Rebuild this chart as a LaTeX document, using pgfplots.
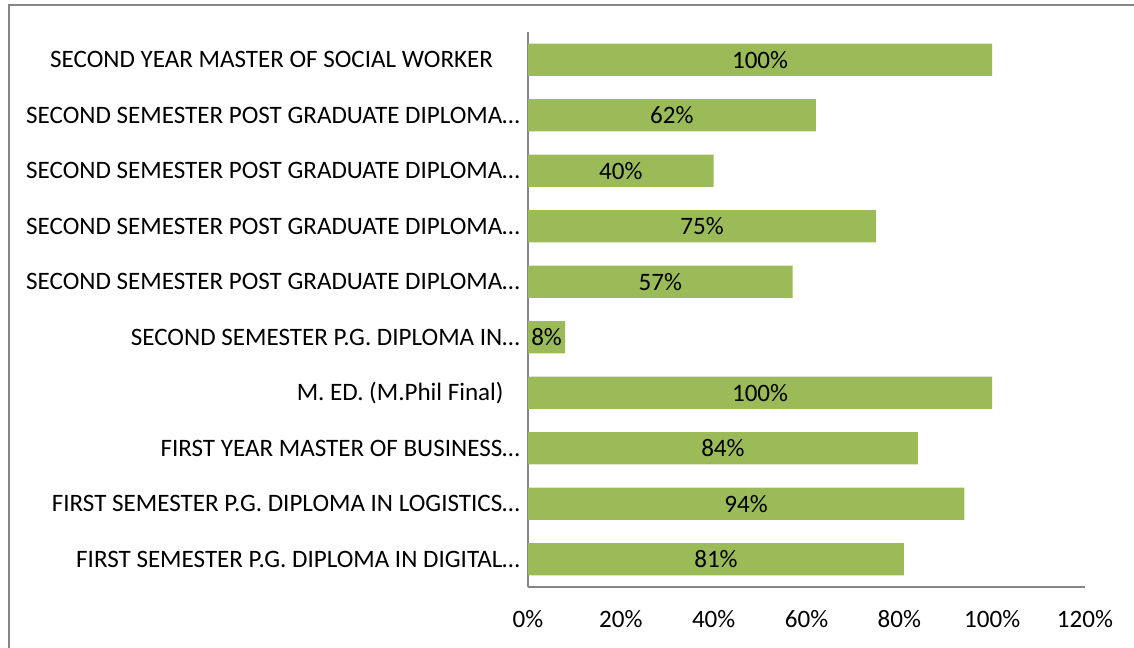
\documentclass[border=0pt]{standalone}
\usepackage{fontspec}
\setmainfont{Carlito}
\usepackage{pgfplots}
\usepackage{pgfplotstable}
\pgfplotsset{compat=1.18}
\definecolor{bargreen}{HTML}{9BBB59}
\definecolor{axisgray}{HTML}{868686}
\pgfplotstableread{
y v
0 81
1 94
2 84
3 100
4 8
5 57
6 75
7 40
8 62
9 100
}\datatable
\begin{document}
\fontsize{18.8}{22}\selectfont
\begin{tikzpicture}
\useasboundingbox (0,0) rectangle (850.5pt,485.25pt);
\draw[axisgray, line width=1.5pt] (6.75pt,-1pt) -- (6.75pt,481.5pt) -- (851pt,481.5pt);
\begin{axis}[
  at={(396pt,45pt)}, anchor=south west,
  scale only axis, width=417.75pt, height=416.25pt,
  xmin=0, xmax=120, ymin=-0.5, ymax=9.5,
  axis x line*=bottom, axis y line*=left,
  axis line style={draw=axisgray, line width=1.5pt, -},
  xtick={0,20,...,120},
  xticklabel={\pgfmathprintnumber[assume math mode=true]{\tick}\%},
  ytick={0,...,9},
  yticklabels={
    {FIRST SEMESTER P.G. DIPLOMA IN DIGITAL…},
    {FIRST SEMESTER P.G. DIPLOMA IN LOGISTICS…},
    {FIRST YEAR MASTER OF BUSINESS…},
    {M. ED. (M.Phil Final)\hspace*{12pt}},
    {SECOND SEMESTER P.G. DIPLOMA IN…},
    {SECOND SEMESTER POST GRADUATE DIPLOMA…},
    {SECOND SEMESTER POST GRADUATE DIPLOMA…},
    {SECOND SEMESTER POST GRADUATE DIPLOMA…},
    {SECOND SEMESTER POST GRADUATE DIPLOMA…},
    {SECOND YEAR MASTER OF SOCIAL WORKER\hspace*{20pt}}
  },
  major tick length=0pt,
  xticklabel style={anchor=center, yshift=-24pt, inner sep=0pt},
  yticklabel style={anchor=east, inner sep=0pt, xshift=-6pt},
  clip=false,
]
\addplot[xbar, bar width=0.58, fill=bargreen, draw=none] table[x=v, y=y] {\datatable};
\addplot[draw=none, mark=none, point meta=explicit,
  nodes near coords={\pgfmathprintnumber[assume math mode=true]{\pgfplotspointmeta}\%},
  every node near coord/.append style={anchor=center, inner sep=0pt, text=black}]
  table[x expr=\thisrow{v}/2, y=y, meta=v] {\datatable};
\end{axis}
\end{tikzpicture}
\end{document}
